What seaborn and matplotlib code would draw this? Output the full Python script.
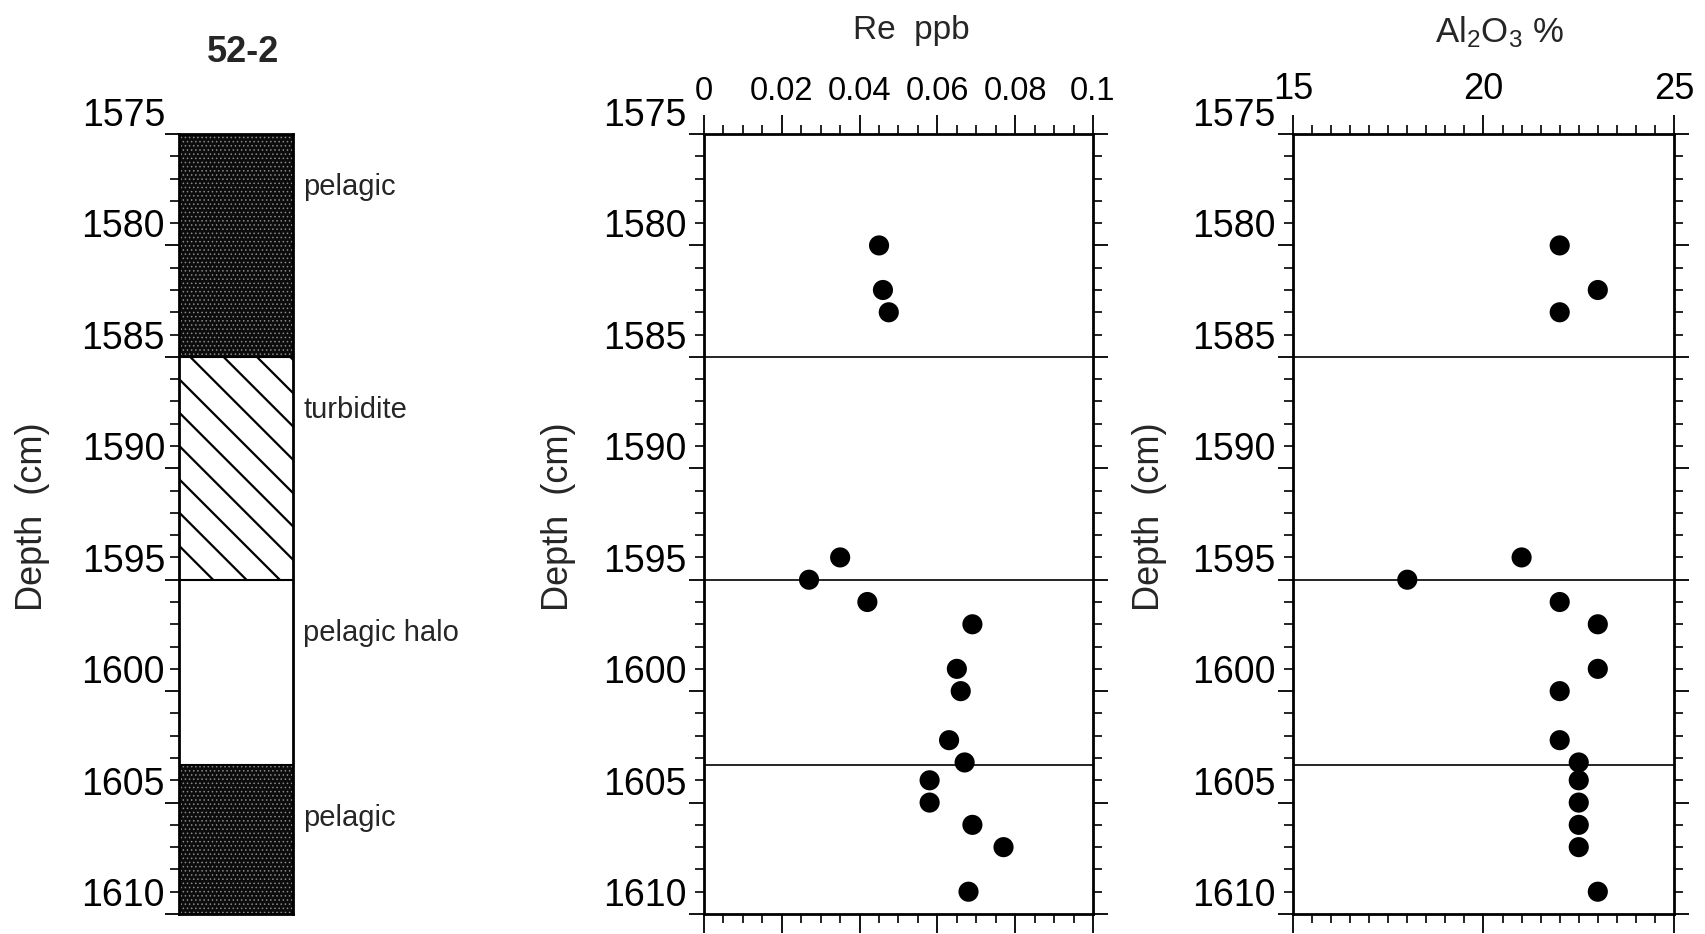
import numpy as np
import pandas as pd
import matplotlib
matplotlib.use('Agg')
import matplotlib.pyplot as plt
import matplotlib.transforms as mtransforms
from matplotlib.ticker import FormatStrFormatter
import seaborn as sns

# sample depths (cm) and measured values, core 52-2
depth = [1580, 1582, 1583, 1594, 1595, 1596, 1597, 1599, 1600,
         1602.2, 1603.2, 1604, 1605, 1606, 1607, 1609]
re_ppb = [0.045, 0.046, 0.0475, 0.035, 0.027, 0.042, 0.069, 0.065, 0.066,
          0.063, 0.067, 0.058, 0.058, 0.069, 0.077, 0.068]
al2o3 = [22.0, 23.0, 22.0, 21.0, 18.0, 22.0, 23.0, 23.0, 22.0,
         22.0, 22.5, 22.5, 22.5, 22.5, 22.5, 23.0]

# lithology log
litho_top = [1575, 1585, 1595, 1603.3]
litho_base = [1585, 1595, 1603.3, 1610]
litho_name = ['pelagic', 'turbidite', 'pelagic halo', 'pelagic']

re_ticks = [0, 0.02, 0.04, 0.06, 0.08, 0.1]
re_ticklabels = ['0', '0.02', '0.04', '0.06', '0.08', '0.1']
al_ticks = [15, 20, 25]

sns.set_style('ticks')
plt.rcParams['font.family'] = ['Liberation Sans', 'DejaVu Sans']
plt.rcParams['mathtext.fontset'] = 'custom'
plt.rcParams['mathtext.rm'] = 'Liberation Sans'
plt.rcParams['mathtext.it'] = 'Liberation Sans:italic'
plt.rcParams['hatch.linewidth'] = 1.6
plt.rcParams['axes.linewidth'] = 2.0
plt.rcParams['axes.edgecolor'] = 'black'

df = pd.DataFrame({'depth': depth, 're': re_ppb, 'al': al2o3})

W, H = 1706, 934
fig = plt.figure(figsize=(W / 100, H / 100), dpi=100)
ax0 = fig.add_axes([179 / W, 20 / H, 114 / W, 780 / H])
ax1 = fig.add_axes([704 / W, 20 / H, 389 / W, 780 / H])
ax2 = fig.add_axes([1293 / W, 20 / H, 381 / W, 780 / H])


def depth_axis(ax, right, tlen, pad):
    ax.set_ylim(1610, 1575)
    ax.set_yticks(np.arange(1575, 1611, 5))
    ax.set_yticks(np.arange(1575, 1611, 1), minor=True)
    ax.yaxis.set_major_formatter(FormatStrFormatter('%d'))
    ax.tick_params(axis='y', which='major', left=True, right=right, direction='out',
                   length=tlen, width=1.3, labelsize=27, pad=pad, colors='black')
    ax.tick_params(axis='y', which='minor', left=True, right=right, direction='out',
                   length=6.5, width=1.2, colors='black')
    plt.setp(ax.get_yticklabels(), va='bottom')


# ---- lithology column
# facecolor, hatch, hatch colour, hatch line width
fills = {'pelagic': ('#0c0c0c', '....', '#8a8a8a', 0.6),
         'turbidite': ('white', '\\', 'black', 1.6),
         'pelagic halo': ('white', '', 'black', 1.6)}
trans = mtransforms.blended_transform_factory(ax0.transAxes, ax0.transData)
for top, base, name in zip(litho_top, litho_base, litho_name):
    fc, hatch, hc, hlw = fills[name]
    with plt.rc_context({'hatch.linewidth': hlw}):
        ax0.bar(0.5, base - top, bottom=top, width=1, color=fc, hatch=hatch,
                edgecolor=hc, linewidth=0)
    ax0.text(1.088, top + 2.4, name, transform=trans, fontsize=21,
             ha='left', va='center')
for b in litho_base[:-1]:
    ax0.axhline(b, color='black', lw=1.5)
ax0.set_xlim(0, 1)
ax0.set_xticks([])
depth_axis(ax0, False, 10, 0)
ax0.set_ylabel('Depth  (cm)', fontsize=26)
ax0.yaxis.set_label_coords(-1.13, 0.509)
ax0.set_title('52-2', fontsize=26, fontweight='bold', x=0.56, pad=52)

# ---- Re panel
sns.scatterplot(data=df, x='re', y='depth', ax=ax1, color='black', s=210,
                edgecolor='none', legend=False)
for b in litho_base[:-1]:
    ax1.axhline(b, color='black', lw=1.2)
ax1.set_xlim(0, 0.1)
ax1.set_xticks(re_ticks)
ax1.set_xticklabels(re_ticklabels)
ax1.set_xticks(np.arange(0, 0.1001, 0.005), minor=True)
depth_axis(ax1, True, 11, 1.5)

# ---- Al2O3 panel
sns.scatterplot(data=df, x='al', y='depth', ax=ax2, color='black', s=210,
                edgecolor='none', legend=False)
for b in litho_base[:-1]:
    ax2.axhline(b, color='black', lw=1.2)
ax2.set_xlim(15, 25)
ax2.set_xticks(al_ticks)
ax2.set_xticks(np.arange(15, 25.01, 0.5), minor=True)
depth_axis(ax2, True, 11, 1.5)

for ax, lab, fs, lx, ly, tfs in [(ax1, 'Re  ppb', 24, 0.532, 1.122, 23.5),
                                 (ax2, r'Al$_{2}$O$_{3}$ %', 25, 0.541, 1.118, 26)]:
    ax.tick_params(axis='x', which='major', top=True, bottom=True, labeltop=True,
                   labelbottom=False, direction='out', length=14, width=1.3,
                   pad=5.5, labelsize=tfs, colors='black')
    ax.tick_params(axis='x', which='minor', top=True, bottom=True, direction='out',
                   length=6.5, width=1.2, colors='black')
    ax.xaxis.set_label_position('top')
    ax.set_xlabel(lab, fontsize=fs)
    ax.xaxis.set_label_coords(lx, ly)
    ax.set_ylabel('Depth  (cm)', fontsize=26)

ax1.yaxis.set_label_coords(-0.33, 0.509)
ax2.yaxis.set_label_coords(-0.33, 0.509)

fig.savefig('out.png', dpi=100, facecolor='white')
